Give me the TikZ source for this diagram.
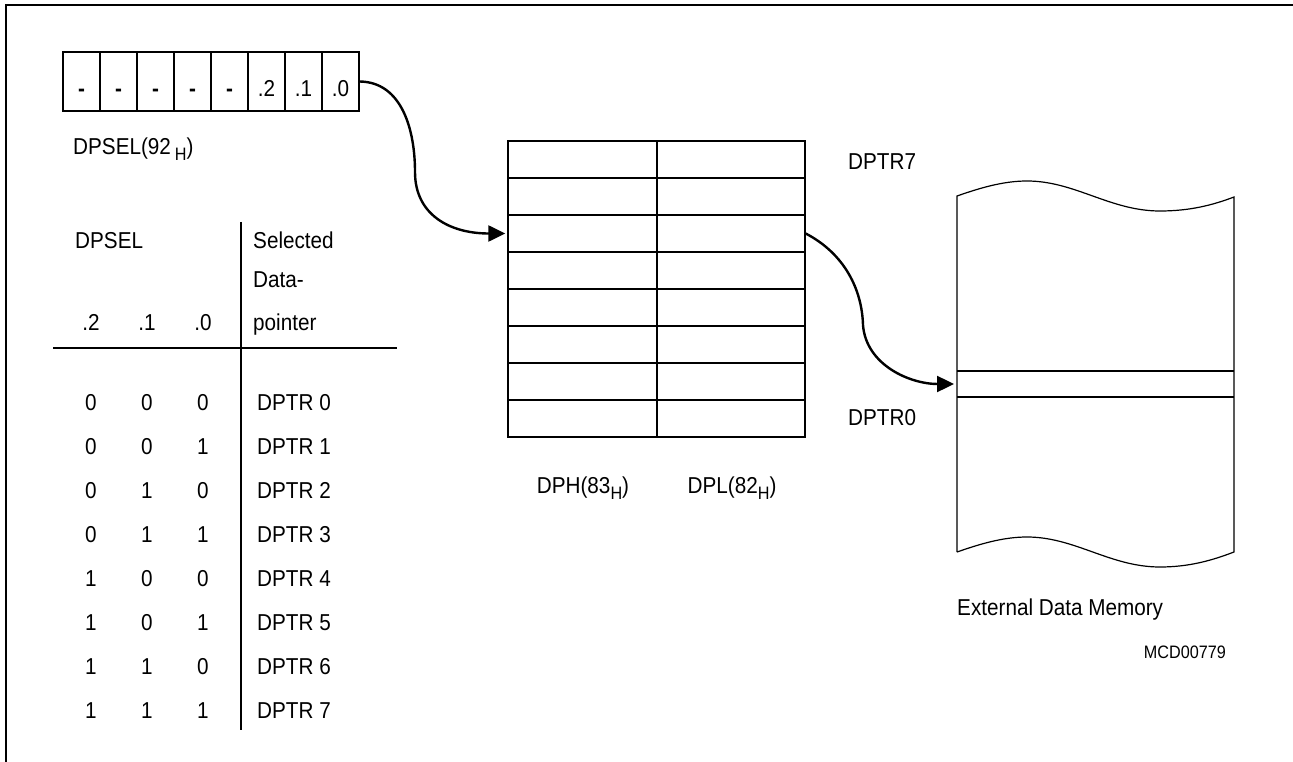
\documentclass[tikz,border=0pt]{standalone}
\usepackage{fontspec}
\setmainfont{Liberation Sans}[FakeStretch=0.9]
\usepackage{tikz}
\usetikzlibrary{positioning,arrows.meta}
\newcommand{\hsub}[1]{\raisebox{-6pt}{\fontsize{18}{18}\selectfont #1}}
\tikzset{
  bitcell/.style={draw,line width=1.2pt,minimum width=37pt,minimum height=59pt,inner sep=0pt},
  regcell/.style={draw,line width=1.4pt,minimum height=37pt,inner sep=0pt},
  lbl/.style={inner sep=0pt,anchor=base west},
  clbl/.style={inner sep=0pt,anchor=base},
  ptr/.style={line width=2.4pt,-{Triangle[length=17pt,width=16pt]}},
}
\begin{document}
\begin{tikzpicture}[x=1pt,y=-1pt,font=\fontsize{23}{27}\selectfont]
  \useasboundingbox (0,0) rectangle (1293,762);
  % frame
  \draw[line width=2pt] (5.5,762) -- (5.5,5.5) -- (1293,5.5);

  % DPSEL register
  \foreach \n/\t [count=\i from 0] in {7/\textbf{-},6/\textbf{-},5/\textbf{-},4/\textbf{-},3/\textbf{-},2/.2,1/.1,0/.0} {
    \node[bitcell] (bit\n) at (81.5+37*\i,81.5) {};
    \node[clbl] at (81.5+37*\i,97) {\t};
  }
  \node[lbl] (dpsel) at (73,155) {DPSEL(92\,\hsub{H})};

  % selection table
  \node[lbl] (hdsel) at (75,248) {DPSEL};
  \node[lbl] (hdsel1) at (253,248) {Selected};
  \node[lbl] (hdsel2) at (253,287) {Data-};
  \node[lbl] (hdsel3) at (253,330) {pointer};
  \node[clbl] (hd2) at (91,330) {.2};
  \node[clbl] (hd1) at (147,330) {.1};
  \node[clbl] (hd0) at (203,330) {.0};
  \draw[line width=1.3pt] (53,348) -- (397,348);
  \draw[line width=1.3pt] (241,222) -- (241,730);
  \foreach \k/\a/\b/\c in {0/0/0/0,1/0/0/1,2/0/1/0,3/0/1/1,4/1/0/0,5/1/0/1,6/1/1/0,7/1/1/1} {
    \node[clbl] (sa\k) at (91,410+44*\k) {\a};
    \node[clbl] (sb\k) at (147,410+44*\k) {\b};
    \node[clbl] (sc\k) at (203,410+44*\k) {\c};
    \node[lbl] (sel\k) at (257,410+44*\k) {DPTR \k};
  }

  % data pointer registers
  \foreach \r in {0,...,7} {
    \node[regcell,minimum width=149pt] (dph\r) at (582.5,418.5-37*\r) {};
    \node[regcell,minimum width=148pt] (dpl\r) at (731,418.5-37*\r) {};
  }
  \node[lbl,anchor=west] (top) at (848,162) {DPTR7};
  \node[lbl,anchor=west] (bot) at (848,418) {DPTR0};
  \node[clbl] (dphlbl) at (583,493) {DPH(83\hsub{H})};
  \node[clbl] (dpllbl) at (732,493) {DPL(82\hsub{H})};

  % external data memory
  \draw[line width=1.2pt] (957,552) -- (957,196)
    .. controls (980,188) and (1003,181) .. (1027,181)
    .. controls (1075,181) and (1110,211) .. (1160,211)
    .. controls (1190,211) and (1213,205) .. (1234,197) -- (1234,552)
    .. controls (1213,560) and (1190,567) .. (1160,567)
    .. controls (1110,567) and (1075,537) .. (1027,537)
    .. controls (1003,537) and (980,544) .. (957,552);
  \draw[line width=1.2pt] (957,371) -- (1234,371);
  \draw[line width=1.2pt] (957,397) -- (1234,397);
  \coordinate (memrow) at (957,384);
  \node[lbl] (mem) at (957,615) {External Data Memory};
  \node[lbl,anchor=base east,font=\fontsize{18}{21}\selectfont] (fig) at (1226,658) {MCD00779};

  % pointers
  \draw[ptr,shorten >=2pt] (bit0.east) .. controls (402,82) and (415,130) .. (415,172)
    .. controls (415,215) and (450,233.5) .. (dph5.west);
  \draw[ptr,shorten >=3pt] (dpl5.east) .. controls (845,254) and (862,290) .. (863,325)
    .. controls (866,365) and (910,384) .. (memrow);
\end{tikzpicture}
\end{document}
